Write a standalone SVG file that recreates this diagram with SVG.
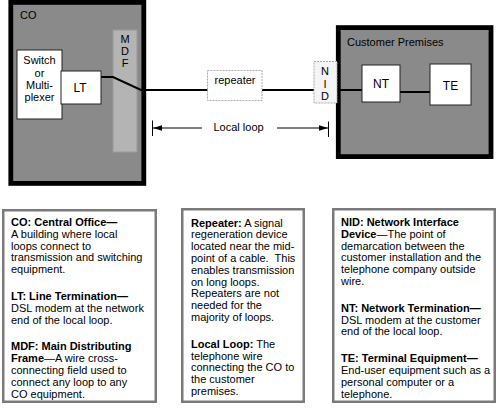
<svg xmlns="http://www.w3.org/2000/svg" width="500" height="415" viewBox="0 0 500 415">
<defs>
<style>
text{font-family:"Liberation Sans",Arial,sans-serif;font-size:11px;fill:#000}
.b{font-weight:bold}
.c{text-anchor:middle}
.big{font-size:12px}
.node{fill:#fff;stroke:#222;stroke-width:1}
.light{fill:#fff;stroke:#aaa;stroke-width:1}
.bld{fill:#8a8a8a;stroke:#000;stroke-width:4.8}
.wire{fill:none;stroke:#000;stroke-width:2}
.note{fill:#fff;stroke:#7a7a7a;stroke-width:2.5}
.dim{stroke:#000;stroke-width:1;fill:none}
</style>
<marker id="ah" viewBox="0 0 10 6" refX="10" refY="3" markerWidth="9" markerHeight="5.5" markerUnits="userSpaceOnUse" orient="auto"><path d="M0,0L10,3L0,6Z" fill="#000"/></marker>
</defs>
<rect width="500" height="415" fill="#fff"/>
<g id="co"><rect class="bld" x="10.8" y="2.4" width="133" height="181"/><text x="20" y="19">CO</text></g>
<g id="customer-premises"><rect class="bld" x="338.3" y="27.6" width="152.7" height="129" stroke-width="4.6"/><text x="347" y="46">Customer Premises</text></g>
<g id="mdf"><rect x="113" y="30" width="24" height="122" fill="#b4b4b4" stroke="#9a9a9a" stroke-width="1"/><text class="c" x="125" y="42.5">M</text><text class="c" x="125" y="54.5">D</text><text class="c" x="125" y="66.5">F</text></g>
<g id="connectors">
<polyline class="wire" points="101,77 113,77 141,90 362,90"/>
<line class="wire" x1="400" y1="92" x2="430" y2="92"/>
<line class="dim" x1="202" y1="128" x2="153" y2="128" marker-end="url(#ah)"/>
<line class="dim" x1="152.5" y1="120.5" x2="152.5" y2="136"/>
<line class="dim" x1="277" y1="128" x2="328" y2="128" marker-end="url(#ah)"/>
<line class="dim" x1="328.5" y1="121.5" x2="328.5" y2="137"/>
</g>
<g id="switch"><rect class="node" x="17" y="50" width="45" height="69"/><text class="c" x="39.5" y="64">Switch</text><text class="c" x="39.5" y="76.5">or</text><text class="c" x="39.5" y="88.5">Multi-</text><text class="c" x="39.5" y="100.5">plexer</text></g>
<g id="lt"><rect class="node" x="61" y="71" width="40" height="33"/><text class="c big" x="80" y="92">LT</text></g>
<g id="repeater"><rect class="light" x="207.5" y="70.5" width="54.5" height="30" stroke-dasharray="2,1"/><text class="c" x="235" y="84">repeater</text></g>
<g id="nid"><rect x="314" y="61.5" width="23" height="41.5" fill="#f4f4f4" stroke="#aaa" stroke-width="1" stroke-dasharray="2,1"/><text class="c" x="325" y="75">N</text><text class="c" x="325" y="87.5">I</text><text class="c" x="325" y="100">D</text></g>
<g id="nt"><rect class="node" x="362" y="65" width="38" height="37"/><text class="c big" x="381" y="87.5">NT</text></g>
<g id="te"><rect class="node" x="430" y="64" width="41" height="41"/><text class="c big" x="450.5" y="90">TE</text></g>
<g id="local-loop-label"><text x="213.5" y="131">Local loop</text></g>
<g id="note-co-lt-mdf"><rect class="note" x="3.25" y="210.25" width="152.5" height="191.5"/>
<text x="11"><tspan class="b" x="11" y="226">CO: Central Office—</tspan><tspan x="11" y="237.8">A building where local</tspan><tspan x="11" y="249.6">loops connect to</tspan><tspan x="11" y="261.4">transmission and switching</tspan><tspan x="11" y="273.2">equipment.</tspan><tspan class="b" x="11" y="300">LT: Line Termination—</tspan><tspan x="11" y="311.8">DSL modem at the network</tspan><tspan x="11" y="323.6">end of the local loop.</tspan><tspan class="b" x="11" y="350.4">MDF: Main Distributing</tspan><tspan x="11" y="362.2"><tspan class="b">Frame</tspan>—A wire cross-</tspan><tspan x="11" y="374">connecting field used to</tspan><tspan x="11" y="385.8">connect any loop to any</tspan><tspan x="11" y="397.6">CO equipment.</tspan></text></g>
<g id="note-repeater-loop"><rect class="note" x="182.25" y="209.25" width="121.5" height="192.5"/>
<text x="191"><tspan x="191" y="226.5"><tspan class="b">Repeater:</tspan> A signal</tspan><tspan x="191" y="238.3">regeneration device</tspan><tspan x="191" y="250.1">located near the mid-</tspan><tspan x="191" y="261.9">point of a cable.&#160; This</tspan><tspan x="191" y="273.7">enables transmission</tspan><tspan x="191" y="285.5">on long loops.</tspan><tspan x="191" y="297.3">Repeaters are not</tspan><tspan x="191" y="309.1">needed for the</tspan><tspan x="191" y="320.9">majority of loops.</tspan><tspan x="191" y="347.7"><tspan class="b">Local Loop:</tspan> The</tspan><tspan x="191" y="359.5">telephone wire</tspan><tspan x="191" y="371.3">connecting the CO to</tspan><tspan x="191" y="383.1">the customer</tspan><tspan x="191" y="394.9">premises.</tspan></text></g>
<g id="note-nid-nt-te"><rect class="note" x="333.25" y="209.25" width="161.5" height="192.5"/>
<text x="341"><tspan class="b" x="341" y="226">NID: Network Interface</tspan><tspan x="341" y="237.8"><tspan class="b">Device</tspan>—The point of</tspan><tspan x="341" y="249.6">demarcation between the</tspan><tspan x="341" y="261.4">customer installation and the</tspan><tspan x="341" y="273.2">telephone company outside</tspan><tspan x="341" y="285">wire.</tspan><tspan class="b" x="341" y="311.8">NT: Network Termination—</tspan><tspan x="341" y="323.6">DSL modem at the customer</tspan><tspan x="341" y="335.4">end of the local loop.</tspan><tspan class="b" x="341" y="362.2">TE: Terminal Equipment—</tspan><tspan x="341" y="374">End-user equipment such as a</tspan><tspan x="341" y="385.8">personal computer or a</tspan><tspan x="341" y="397.6">telephone.</tspan></text></g>
</svg>
